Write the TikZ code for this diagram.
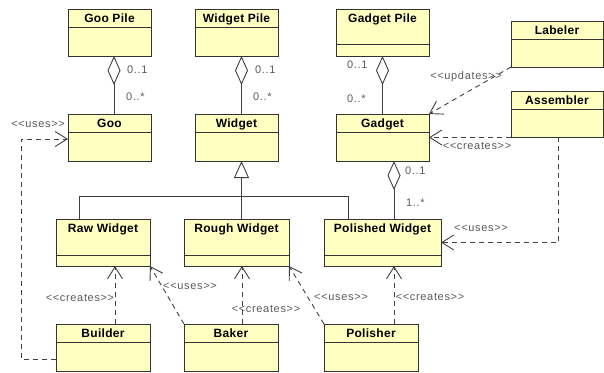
\documentclass[tikz,border=0pt]{standalone}
\usepackage{fontspec}
\setmainfont{Liberation Sans}
\newfontfamily\clsfamily[LetterSpace=2.5]{Liberation Sans}
\newfontfamily\lblfamily[LetterSpace=6]{Liberation Sans}
\usetikzlibrary{arrows.meta}

\definecolor{clsfill}{HTML}{FFFFC2}
\definecolor{clsdraw}{HTML}{333333}
\definecolor{wire}{HTML}{404040}
\definecolor{lblgray}{HTML}{5A5A5A}

\tikzset{
  clsbox/.style={draw=clsdraw, fill=clsfill, line width=1pt, rectangle,
    inner sep=0pt, outer sep=0pt},
  clsrule/.style={draw=clsdraw, line width=1pt},
  clstitle/.style={anchor=base, inner sep=0pt, text=black,
    font=\clsfamily\bfseries\fontsize{12}{14}\selectfont},
  lbl/.style={inner sep=0pt, text=lblgray,
    font=\lblfamily\fontsize{11}{13}\selectfont},
  wireline/.style={draw=wire, line width=0.9pt},
  agg/.style={wireline, -{Diamond[length=29pt,width=13pt,fill=white]}},
  gen/.style={wireline, -{Triangle[length=17pt,width=15pt,fill=white]}},
  dep/.style={wireline, dash pattern=on 5pt off 4pt,
    -{Straight Barb[length=12pt,width=15pt]}},
}

% #1 name, #2 left, #3 top, #4 width, #5 height, #6 header height, #7 title
\newcommand\umlclass[7]{%
  \node[clsbox, minimum width=#4pt, minimum height=#5pt, anchor=north west]
    (#1) at (#2,#3) {};
  \draw[clsrule] ([yshift=-#6pt]#1.north west) -- ([yshift=-#6pt]#1.north east);
  \node[clstitle] (#1-title) at ([yshift=-13.5pt]#1.north) {#7};
}

\begin{document}
\begin{tikzpicture}[x=1pt, y=-1pt]
\useasboundingbox (0,0) rectangle (604,372);

% classes
\umlclass{goopile}{68}{9}{83}{47}{18}{Goo Pile}
\umlclass{widgetpile}{195}{9}{83}{47}{18}{Widget Pile}
\umlclass{gadgetpile}{336}{9}{93}{47}{35}{Gadget Pile}
\umlclass{labeler}{511}{21}{92}{46}{18}{Labeler}
\umlclass{assembler}{511}{91}{92}{46}{18}{Assembler}
\umlclass{goo}{68}{114}{83}{47}{18}{Goo}
\umlclass{widget}{195}{114}{83}{47}{18}{Widget}
\umlclass{gadget}{336}{114}{93}{47}{18}{Gadget}
\umlclass{rawwidget}{56}{219}{94}{47}{36}{Raw Widget}
\umlclass{roughwidget}{184}{219}{105}{47}{36}{Rough Widget}
\umlclass{polishedwidget}{324}{219}{117}{47}{36}{Polished Widget}
\umlclass{builder}{56}{324}{94}{47}{18}{Builder}
\umlclass{baker}{184}{324}{94}{47}{18}{Baker}
\umlclass{polisher}{324}{324}{94}{47}{18}{Polisher}

% aggregations
\draw[agg] ([xshift=4.5pt]goo.north) -- ([xshift=4.5pt]goopile.south);
\draw[agg] ([xshift=5pt]widget.north) -- ([xshift=5pt]widgetpile.south);
\draw[agg] (gadget.north) -- (gadgetpile.south);
\draw[agg] ([xshift=11.5pt]polishedwidget.north) -- ([xshift=11.5pt]gadget.south);

% generalization tree
\coordinate (genjoin) at (241.5,196);
\draw[gen] (genjoin) -- ([xshift=5pt]widget.south);
\draw[wireline] (genjoin) -| ([xshift=23pt]rawwidget.north west);
\draw[wireline] (genjoin) -| ([xshift=24pt]polishedwidget.north west);
\draw[wireline] (genjoin) -- (roughwidget.north -| genjoin);

% dependencies
\draw[dep] ([yshift=-11.5pt]builder.west) -| ([xshift=-47pt,yshift=-1.5pt]goo.west)
  -- ([yshift=-1.5pt]goo.west);
\draw[dep] ([xshift=59pt]builder.north west) -- ([xshift=59pt]rawwidget.south west);
\draw[dep] (baker.north west) -- (rawwidget.south east);
\draw[dep] ([xshift=58pt]baker.north west) -- ([xshift=58pt]roughwidget.south west);
\draw[dep] (polisher.north west) -- (roughwidget.south east);
\draw[dep] ([xshift=70pt]polisher.north west) -- ([xshift=70pt]polishedwidget.south west);
\draw[dep] ([xshift=47pt]assembler.south west) |- (polishedwidget.east);
\draw[dep] (assembler.south west |- gadget.east) -- (gadget.east);
\draw[dep] (labeler.south west) -- (gadget.north east);

% multiplicities
\node[lbl, anchor=mid west] (m1) at (127,71) {0..1};
\node[lbl, anchor=mid west] (m2) at (126,98) {0..*};
\node[lbl, anchor=mid west] (m3) at (255,71) {0..1};
\node[lbl, anchor=mid west] (m4) at (253,98) {0..*};
\node[lbl, anchor=mid west] (m5) at (347,66) {0..1};
\node[lbl, anchor=mid west] (m6) at (347,100) {0..*};
\node[lbl, anchor=mid west] (m7) at (405,172) {0..1};
\node[lbl, anchor=mid west] (m8) at (406,204) {1..*};

% stereotypes
\node[lbl, anchor=mid east] (s1) at (65,125) {<<uses>>};
\node[lbl, anchor=mid] (s2) at (466,77) {<<updates>>};
\node[lbl, anchor=mid] (s3) at (477,147) {<<creates>>};
\node[lbl, anchor=mid] (s4) at (481,229) {<<uses>>};
\node[lbl, anchor=mid] (s5) at (80,299) {<<creates>>};
\node[lbl, anchor=mid] (s6) at (190,287) {<<uses>>};
\node[lbl, anchor=mid] (s7) at (266,310) {<<creates>>};
\node[lbl, anchor=mid] (s8) at (341,298) {<<uses>>};
\node[lbl, anchor=mid] (s9) at (430,298) {<<creates>>};
\end{tikzpicture}
\end{document}
